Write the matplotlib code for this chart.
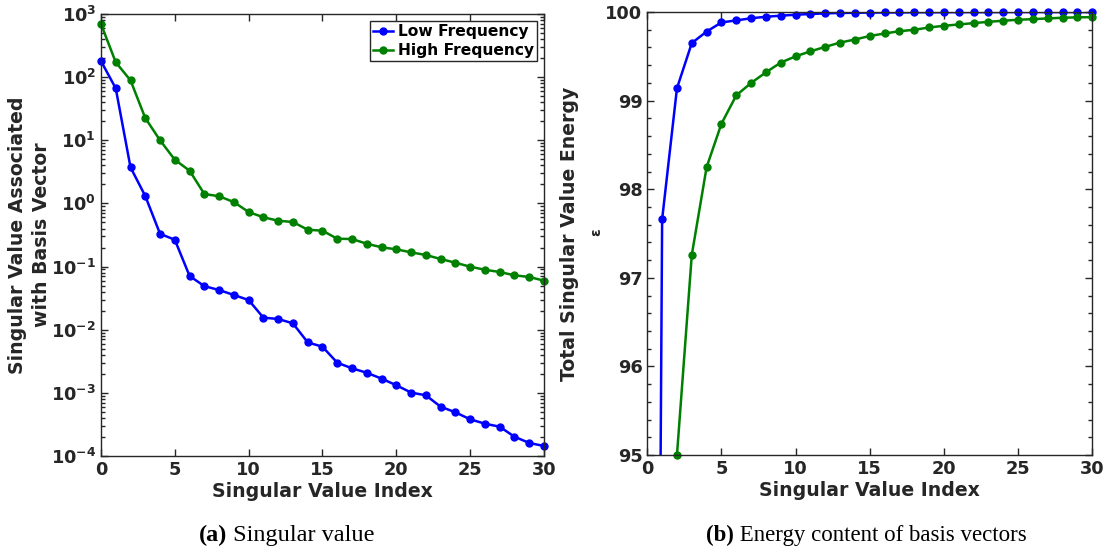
import numpy as np
import matplotlib
matplotlib.use("Agg")
import matplotlib.pyplot as plt
from matplotlib.ticker import LogLocator, NullFormatter, MultipleLocator, FixedLocator

# ---------------- data ----------------
index = list(range(31))

sv_low = [180, 66.5, 3.73, 1.31, 0.33, 0.266, 0.071, 0.049, 0.0425, 0.0355, 0.0295,
          0.0155, 0.0148, 0.0126, 0.0063, 0.00538, 0.0030, 0.00245, 0.00208, 0.00168,
          0.00132, 0.00101, 0.000915, 0.000604, 0.000492, 0.000381, 0.000325,
          0.000291, 0.000202, 0.000161, 0.000144]
sv_high = [695, 172, 89, 22.5, 10.0, 4.92, 3.30, 1.41, 1.30, 1.05, 0.731, 0.603,
           0.532, 0.508, 0.383, 0.370, 0.276, 0.273, 0.230, 0.202, 0.1875, 0.168,
           0.1525, 0.1318, 0.1151, 0.0995, 0.0891, 0.0820, 0.0727, 0.0684, 0.0598]

en_low = [71.3, 97.66, 99.14, 99.65, 99.78, 99.883, 99.906, 99.93, 99.947, 99.959,
          99.97, 99.978, 99.985, 99.99, 99.992, 99.994, 99.995, 99.996, 99.997,
          99.998, 99.998, 99.999, 99.999, 99.999, 100, 100, 100, 100, 100, 100, 100]
en_high = [69.0, 86.1, 95.0, 97.26, 98.25, 98.74, 99.06, 99.20, 99.32, 99.43, 99.50,
           99.557, 99.607, 99.656, 99.69, 99.73, 99.758, 99.784, 99.80, 99.826,
           99.845, 99.86, 99.875, 99.89, 99.902, 99.913, 99.92, 99.928, 99.936,
           99.94, 99.943]

labels = ["Low Frequency", "High Frequency"]
left_yticks = [1e-4, 1e-3, 1e-2, 1e-1, 1e0, 1e1, 1e2, 1e3]
xticks = [0, 5, 10, 15, 20, 25, 30]
right_yticks = [95, 96, 97, 98, 99, 100]

# ---------------- style ----------------
BLUE = "#0000ff"
GREEN = "#008000"
DARK = "#262626"
plt.rcParams.update({
    "font.family": ["DejaVu Sans"],
    "font.weight": "bold",
    "axes.labelweight": "bold",
    "mathtext.default": "bf",
    "text.color": DARK,
    "axes.labelcolor": DARK,
    "xtick.color": DARK,
    "ytick.color": DARK,
    "axes.edgecolor": DARK,
})

fig = plt.figure(figsize=(11.12, 5.53), dpi=100)
ax1 = fig.add_axes([0.0908, 0.1754, 0.3984, 0.7993])
ax2 = fig.add_axes([0.5821, 0.1772, 0.4002, 0.8010])

lw = 1.8
ms = 5
LABEL_FS = 13.6
TICK_FS = 12.8

# ---------------- left ----------------
ax1.plot(index, sv_low, "-o", color=BLUE, lw=lw, ms=ms, label=labels[0], clip_on=False)
ax1.plot(index, sv_high, "-o", color=GREEN, lw=lw, ms=ms, label=labels[1], clip_on=False)
ax1.set_yscale("log")
ax1.set_ylim(1e-4, 1e3)
ax1.set_xlim(0, 30)
ax1.yaxis.set_major_locator(FixedLocator(left_yticks))
ax1.set_yticklabels([r"$10^{%d}$" % int(np.log10(v)) for v in left_yticks])
ax1.yaxis.set_minor_locator(LogLocator(base=10, subs=np.arange(2, 10), numticks=20))
ax1.yaxis.set_minor_formatter(NullFormatter())
ax1.set_xticks(xticks)
ax1.set_xlabel("Singular Value Index", fontsize=LABEL_FS, labelpad=2)
ax1.set_ylabel("Singular Value Associated\nwith Basis Vector", fontsize=LABEL_FS,
               labelpad=0, linespacing=1.3)
leg = ax1.legend(loc="upper right", fontsize=11.2, handlelength=1.3, handletextpad=0.3,
                 borderpad=0.2, labelspacing=0.25, fancybox=False, framealpha=1,
                 borderaxespad=0.45)
leg.get_frame().set_edgecolor(DARK)
leg.get_frame().set_linewidth(1.0)
for t in leg.get_texts():
    t.set_fontweight("bold")
    t.set_color("black")

# ---------------- right ----------------
x = np.array(index)
for vals, c in ((en_low, BLUE), (en_high, GREEN)):
    v = np.array(vals)
    ax2.plot(x, v, "-", color=c, lw=lw)
    m = v >= 95
    ax2.plot(x[m], v[m], "o", color=c, ms=ms, clip_on=False)
ax2.set_xlim(0, 30)
ax2.set_ylim(95, 100)
ax2.set_xticks(xticks)
ax2.set_yticks(right_yticks)
ax2.yaxis.set_minor_locator(MultipleLocator(0.2))
ax2.set_xlabel("Singular Value Index", fontsize=LABEL_FS, labelpad=2)
ax2.set_ylabel("Total Singular Value Energy", fontsize=LABEL_FS, labelpad=19)
fig.text(597 / 1112, 1 - 233 / 553, r"$\epsilon$", rotation=90, fontsize=10,
         ha="center", va="center", color=DARK)

for ax in (ax1, ax2):
    ax.tick_params(which="both", direction="in", top=True, right=True,
                   labelsize=TICK_FS, width=1.0)
    ax.tick_params(which="major", length=5)
    ax.tick_params(which="minor", length=3)
    ax.tick_params(axis="x", which="minor", bottom=False, top=False)
    for s in ax.spines.values():
        s.set_linewidth(1.0)
    for lab in ax.get_xticklabels() + ax.get_yticklabels():
        lab.set_fontweight("bold")

# ---------------- captions ----------------
cap_font = ["Liberation Serif", "DejaVu Serif"]
def caption(xc, bold, rest, fs):
    t1 = fig.text(0, 0, bold, fontsize=fs, fontweight="bold", family=cap_font, color="black")
    t2 = fig.text(0, 0, rest, fontsize=fs, fontweight="normal", family=cap_font, color="black")
    fig.canvas.draw()
    r = fig.canvas.get_renderer()
    w1 = t1.get_window_extent(r).width
    w2 = t2.get_window_extent(r).width
    total = w1 + w2
    x0 = xc - total / 2
    y = 553 - 535
    t1.set_position((x0 / 1112, y / 553))
    t2.set_position(((x0 + w1) / 1112, y / 553))
    t1.set_va("center"); t2.set_va("center")

caption(287, "(a)", " Singular value", 17.5)
caption(866, "(b)", " Energy content of basis vectors", 16.5)

fig.savefig("out.png", dpi=100)
